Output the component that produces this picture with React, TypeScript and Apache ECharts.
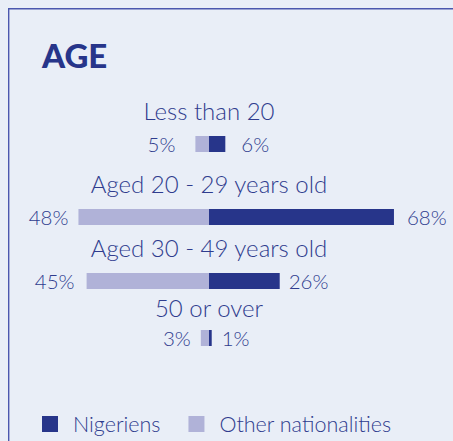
import React, { useEffect, useRef } from 'react';
import * as echarts from 'echarts';

const categories = ['Less than 20', 'Aged 20 - 29 years old', 'Aged 30 - 49 years old', '50 or over'];
const nigeriens = [6, 68, 26, 1];
const otherNationalities = [5, 48, 45, 3];

const DARK = '#27358a';
const LIGHT = '#b0b2d8';
const TEXT = '#2f3c8e';
const FONT = 'Lato, "Open Sans", sans-serif';

const rowTops = [136, 209, 273, 330];
const nameGaps = [14, 14, 14, 11];
const leftGaps = [20, 10, 12, 10];
const rightGaps = [16, 13, 9, 10];

export default function App() {
  const ref = useRef<HTMLDivElement>(null);
  useEffect(() => {
    const chart = echarts.init(ref.current!, null, { renderer: 'svg' });
    const grids = categories.map((_, i) => ({ left: 18.6, right: 53.6, top: rowTops[i], height: 16 }));
    const xAxes = categories.map((c, i) => ({
      type: 'value', gridIndex: i, min: -70, max: 70, position: 'top',
      name: c, nameLocation: 'middle', nameGap: nameGaps[i],
      nameTextStyle: { fontFamily: FONT, fontSize: 24, fontWeight: 300, color: TEXT },
      axisLine: { show: false }, axisTick: { show: false }, axisLabel: { show: false }, splitLine: { show: false },
    }));
    const yAxes = categories.map((c, i) => ({
      type: 'category', gridIndex: i, data: [c], show: false,
    }));
    const labelStyle = { fontFamily: FONT, fontSize: 20.5, fontWeight: 300, color: TEXT };
    const series: any[] = [];
    categories.forEach((_, i) => {
      series.push({
        type: 'bar', name: 'Other nationalities', xAxisIndex: i, yAxisIndex: i, stack: 's' + i,
        barWidth: 16, itemStyle: { color: LIGHT },
        data: [-otherNationalities[i]],
        label: { show: true, position: 'left', distance: leftGaps[i], ...labelStyle,
          formatter: (p: any) => Math.abs(p.value) + '%' },
      });
      series.push({
        type: 'bar', name: 'Nigeriens', xAxisIndex: i, yAxisIndex: i, stack: 's' + i,
        barWidth: 16, itemStyle: { color: DARK },
        data: [nigeriens[i]],
        label: { show: true, position: 'right', distance: rightGaps[i], ...labelStyle,
          formatter: (p: any) => Math.abs(p.value) + '%' },
      });
    });
    chart.setOption({
      animation: false,
      backgroundColor: '#e9eef7',
      title: { text: 'AGE', left: 42, top: 38, padding: 0, textStyle: { fontFamily: FONT, fontSize: 33, fontWeight: 900, color: DARK } },
      legend: {
        data: ['Nigeriens', 'Other nationalities'], left: 42, top: 413, padding: 0, icon: 'rect', itemWidth: 16, itemHeight: 16,
        itemGap: 28, selectedMode: false,
        textStyle: { fontFamily: FONT, fontSize: 21.5, fontWeight: 300, color: TEXT, padding: [0, 0, 0, 10] },
      },
      grid: grids, xAxis: xAxes, yAxis: yAxes, series,
      graphic: [{ type: 'rect', shape: { x: 8.7, y: 8.7, width: 600, height: 600 }, style: { fill: 'none', stroke: '#4b57ae', lineWidth: 1.4 } }],
    });
    return () => chart.dispose();
  }, []);
  return <div ref={ref} style={{ position: 'fixed', left: 0, top: 0, width: 453, height: 441 }} />;
}
